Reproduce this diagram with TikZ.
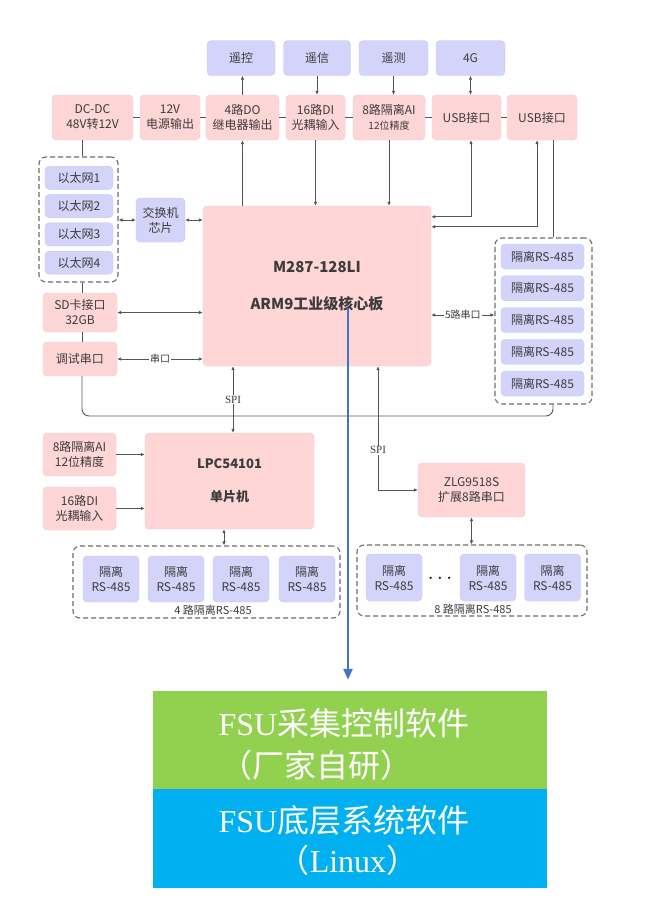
\documentclass[tikz,border=0pt]{standalone}
\usepackage{fontspec}
\setmainfont{Liberation Serif}
\newfontfamily\cjk{Noto Sans CJK SC}
\usetikzlibrary{arrows.meta}

\definecolor{pinkfill}{HTML}{FFD6D6}
\definecolor{pinkedge}{HTML}{EFC8DC}
\definecolor{lilacfill}{HTML}{D4D4FB}
\definecolor{lilacedge}{HTML}{C8C8F2}
\definecolor{inktext}{HTML}{3C3C3C}
\definecolor{wirecol}{HTML}{555555}
\definecolor{tapblue}{HTML}{4472C4}
\definecolor{appgreen}{HTML}{92D050}
\definecolor{osblue}{HTML}{00B0F0}

\begin{document}
\begin{tikzpicture}[x = 1pt, y = -1pt,
                    hwbox/.style = {rectangle, rounded corners = 4pt, draw = pinkedge, fill = pinkfill,
                                    text = inktext, align = center, inner sep = 0pt,
                                    font = \cjk\fontsize{12}{15}\selectfont},
                    extbox/.style = {hwbox, draw = lilacedge, fill = lilacfill},
                    group/.style = {rectangle, rounded corners = 7pt, draw = wirecol!85, line width = 1.1pt,
                                    dash pattern = on 5pt off 3pt},
                    wire/.style = {draw = wirecol, line width = 0.9pt},
                    onearrow/.style = {wire, -{Latex[length = 4pt, width = 3.6pt]}},
                    twoarrow/.style = {wire, {Latex[length = 4pt, width = 3.6pt]}-{Latex[length = 4pt, width = 3.6pt]}},
                    tag/.style = {fill = white, text = inktext, inner sep = 1pt, font = \cjk\fontsize{10}{12}\selectfont},
                    grouptag/.style = {text = inktext, inner sep = 0pt, font = \cjk\fontsize{11}{13}\selectfont},
                    bigtext/.style = {text = white, inner sep = 0pt, font = \fontsize{32}{36}\selectfont}]
  \useasboundingbox (0,0) rectangle (654,898);
  \fill [white] (0,0) rectangle (654,898);

  % remote functions
  \node [extbox, minimum width = 68pt, minimum height = 35pt] (remctl) at (241,58) {遥控};
  \node [extbox, minimum width = 67pt, minimum height = 35pt] (remsig) at (317,58) {遥信};
  \node [extbox, minimum width = 69pt, minimum height = 35pt] (remmea) at (393.5,58) {遥测};
  \node [extbox, minimum width = 69pt, minimum height = 35pt] (lte) at (470.5,58) {4G};

  % board interfaces
  \node [hwbox, minimum width = 81pt, minimum height = 45pt] (dcdc) at (92.5,117.5) {DC-DC\\48V转12V};
  \node [hwbox, minimum width = 60pt, minimum height = 45pt] (pwr12) at (170,117.5) {12V\\电源输出};
  \node [hwbox, minimum width = 73pt, minimum height = 45pt] (do4) at (242.5,117.5) {4路DO\\继电器输出};
  \node [hwbox, minimum width = 59pt, minimum height = 45pt] (di16) at (315.5,117.5) {16路DI\\光耦输入};
  \node [hwbox, minimum width = 72pt, minimum height = 45pt] (ai8) at (389,117.5) {8路隔离AI\\{\fontsize{10}{12}\selectfont 12位精度}};
  \node [hwbox, minimum width = 69pt, minimum height = 45pt] (usba) at (466.5,117.5) {USB接口};
  \node [hwbox, minimum width = 70pt, minimum height = 45pt] (usbb) at (542,117.5) {USB接口};

  \foreach \a/\b in {dcdc/pwr12, pwr12/do4, do4/di16, di16/ai8, ai8/usba, usba/usbb}
    \draw [wire] (\a.east) -- (\b.west);

  % core board
  \node [hwbox, minimum width = 228pt, minimum height = 160pt,
         font = \cjk\bfseries\fontsize{15}{18}\selectfont] (core) at (317,286) {M287-128LI\\[19pt]ARM9工业级核心板};

  \draw [onearrow] (do4.north) -- (do4.north |- remctl.south);
  \draw [onearrow] (remsig.south) -- (remsig.south |- di16.north);
  \draw [onearrow] (remmea.south) -- (remmea.south |- ai8.north);
  \draw [twoarrow] (lte.south) -- (lte.south |- usba.north);
  \draw [onearrow] (do4.south |- core.north) -- (do4.south);
  \draw [onearrow] (di16.south) -- (di16.south |- core.north);
  \draw [onearrow] (ai8.south) -- (ai8.south |- core.north);
  \draw [twoarrow] ([yshift = -11pt]core.north east) -| ([xshift = 4.5pt]usba.south);
  \draw [twoarrow] ([yshift = -21pt]core.north east) -| ([xshift = -5pt]usbb.south);

  % left side
  \node [group, minimum width = 79pt, minimum height = 125pt] (ethgrp) at (78.5,219.5) {};
  \foreach \i in {1,...,4}
    \node [extbox, minimum width = 68pt, minimum height = 23pt] (eth\i) at (79,149.5+28.3*\i) {以太网\i};
  \node [extbox, minimum width = 49pt, minimum height = 44pt] (switch) at (160.5,220) {交换机\\芯片};
  \node [hwbox, minimum width = 74pt, minimum height = 39pt] (sdcard) at (80,312.5) {SD卡接口\\32GB};
  \node [hwbox, minimum width = 74pt, minimum height = 34pt] (debug) at (80,359) {调试串口};
  \coordinate (spine) at (82,416);

  \draw [wire] (dcdc.south -| spine) -- (ethgrp.north -| spine);
  \draw [wire] (ethgrp.south -| spine) -- (sdcard.north -| spine);
  \draw [wire] (sdcard.south -| spine) -- (debug.north -| spine);
  \draw [twoarrow] (switch.west -| ethgrp.east) -- (switch.west);
  \draw [twoarrow] (switch.east) -- (switch.east -| core.west);
  \draw [twoarrow] (sdcard.east) -- (sdcard.east -| core.west);
  \draw [twoarrow] (debug.east) -- node [tag] {串口} (debug.east -| core.west);

  % right side
  \node [group, minimum width = 97pt, minimum height = 166pt] (rsgrp) at (543.5,321) {};
  \foreach \i in {1,...,5}
    \node [extbox, minimum width = 83pt, minimum height = 25pt] (rs\i) at (542.5,224.75+31.75*\i) {隔离RS-485};
  \coordinate (rshead) at ([xshift = 9.5pt]rsgrp.north);
  \coordinate (rsfoot) at ([xshift = 9.5pt]rsgrp.south);

  \draw [wire] (rshead |- usbb.south) -- (rshead);
  \draw [twoarrow] ([yshift = -29pt]core.east) -- node [tag] {5路串口} ([yshift = -29pt]core.east -| rsgrp.west);
  \draw [wire, rounded corners = 7pt] (debug.south -| spine) -- (spine) -- (spine -| rsfoot) -- (rsfoot);

  % MCU
  \node [hwbox, minimum width = 169pt, minimum height = 96pt,
         font = \cjk\bfseries\fontsize{13}{16}\selectfont] (mcu) at (229.5,481) {LPC54101\\[17pt]单片机};
  \node [hwbox, minimum width = 73pt, minimum height = 43pt] (mcuai) at (79.5,454.5) {8路隔离AI\\12位精度};
  \node [hwbox, minimum width = 73pt, minimum height = 43pt] (mcudi) at (79.5,508.5) {16路DI\\光耦输入};
  \coordinate (spia) at (233,0);

  \draw [twoarrow] (core.south -| spia) -- node [tag] {\rmfamily\fontsize{11}{13}\selectfont SPI} (mcu.north -| spia);
  \draw [onearrow] (mcuai.east) -- (mcuai.east -| mcu.west);
  \draw [onearrow] (mcudi.east) -- (mcudi.east -| mcu.west);

  \node [group, minimum width = 267pt, minimum height = 72pt] (mcugrp) at (206.5,582) {};
  \foreach \x [count = \i] in {111,176,241,307}
    \node [extbox, minimum width = 56pt, minimum height = 46pt] (mcurs\i) at (\x,579) {隔离\\RS-485};
  \node [grouptag] (mcugrplbl) at (213,610) {4 路隔离RS-485};
  \draw [twoarrow] ([xshift = -5.5pt]mcu.south) -- ([xshift = -5.5pt]mcu.south |- mcugrp.north);

  % serial expander
  \node [hwbox, minimum width = 107pt, minimum height = 54pt] (zlg) at (471.5,490) {ZLG9518S\\扩展8路串口};
  \coordinate (spib) at (378,0);
  \draw [twoarrow] (core.south -| spib) |- node [tag, pos = 0.34] {\rmfamily\fontsize{11}{13}\selectfont SPI} (zlg.west);

  \node [group, minimum width = 230pt, minimum height = 71pt] (zlggrp) at (472,580.5) {};
  \node [extbox, minimum width = 56pt, minimum height = 47pt] (zlgrs1) at (394,577.5) {隔离\\RS-485};
  \node [extbox, minimum width = 56pt, minimum height = 47pt] (zlgrs2) at (488,577.5) {隔离\\RS-485};
  \node [extbox, minimum width = 56pt, minimum height = 47pt] (zlgrs3) at (552.5,577.5) {隔离\\RS-485};
  \node [text = black] (zlgdots) at (440,579) {\fontsize{20}{20}\selectfont $\cdots$};
  \node [grouptag] (zlggrplbl) at (473,609) {8 路隔离RS-485};
  \draw [twoarrow] (zlg.south) -- (zlg.south |- zlggrp.north);

  % software layers
  \node [rectangle, fill = appgreen, minimum width = 394pt, minimum height = 98pt, inner sep = 0pt] (app) at (350,740) {};
  \node [rectangle, fill = osblue, minimum width = 394pt, minimum height = 99pt, inner sep = 0pt] (os) at (350,838.5) {};
  \node [bigtext] (applbl1) at (344,723) {FSU{\cjk 采集控制软件}};
  \node [bigtext] (applbl2) at (316,765) {{\cjk （厂家自研）}};
  \node [bigtext] (oslbl1) at (344,820) {FSU{\cjk 底层系统软件}};
  \node [bigtext] (oslbl2) at (348,860) {{\cjk （}Linux{\cjk ）}};

  \coordinate (tap) at (348,308);
  \draw [tapblue, line width = 2.2pt, -{Triangle[length = 11pt, width = 9pt]}] (tap) -- ([yshift = 11pt]app.north -| tap);
\end{tikzpicture}
\end{document}
